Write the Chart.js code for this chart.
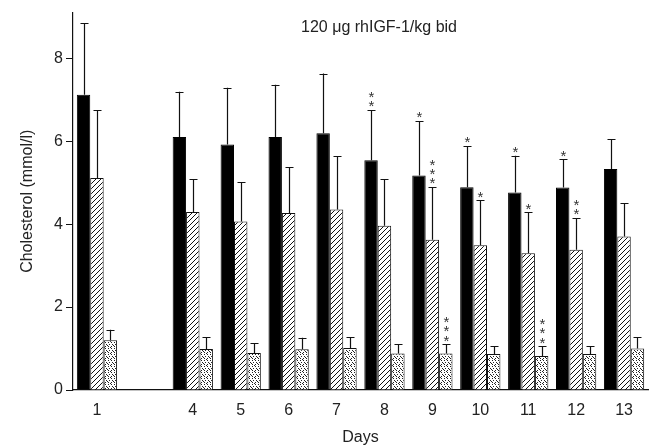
<!DOCTYPE html>
<html>
<head>
<meta charset="utf-8">
<script src="https://cdn.jsdelivr.net/npm/chart.js@4.4.1/dist/chart.umd.min.js"></script>
<style>
  html, body { margin: 0; padding: 0; background: #fff; }
  #wrap { width: 659px; height: 447px; }
</style>
</head>
<body>
<div id="wrap"><canvas id="chart" width="659" height="447"></canvas></div>
<script>
// 일자 (2, 3일은 빈 칸 하나로 표시)
const days = ['1', '', '4', '5', '6', '7', '8', '9', '10', '11', '12', '13'];

// 평균값 (mmol/l)
const blackMean   = [7.12, null, 6.10, 5.92, 6.10, 6.19, 5.54, 5.17, 4.89, 4.76, 4.88, 5.33];
const hatchedMean = [5.11, null, 4.29, 4.06, 4.27, 4.35, 3.96, 3.62, 3.49, 3.30, 3.38, 3.70];
const dottedMean  = [1.20, null, 0.99, 0.89, 0.98, 1.01, 0.88, 0.88, 0.87, 0.82, 0.87, 1.00];

// 표준편차 (위쪽 오차막대)
const blackSd   = [1.73, null, 1.09, 1.37, 1.26, 1.44, 1.21, 1.31, 0.99, 0.89, 0.68, 0.72];
const hatchedSd = [1.63, null, 0.80, 0.95, 1.10, 1.29, 1.13, 1.27, 1.08, 0.98, 0.77, 0.80];
const dottedSd  = [0.25, null, 0.29, 0.24, 0.28, 0.27, 0.23, 0.22, 0.18, 0.23, 0.18, 0.28];

// 유의성 별표 개수
const blackStars   = [0, 0, 0, 0, 0, 0, 2, 1, 1, 1, 1, 0];
const hatchedStars = [0, 0, 0, 0, 0, 0, 0, 3, 1, 1, 2, 0];
const dottedStars  = [0, 0, 0, 0, 0, 0, 0, 3, 0, 3, 0, 0];

const yTicks = [0, 2, 4, 6, 8];

const FONT = '"Liberation Sans", Arial, Helvetica, sans-serif';

// 빗금 패턴
function makeHatch() {
    const c = document.createElement('canvas');
    c.width = 5; c.height = 5;
    const g = c.getContext('2d');
    g.fillStyle = '#fff';
    g.fillRect(0, 0, 5, 5);
    g.fillStyle = '#111';
    for (let i = 0; i < 5; i++) g.fillRect(4 - i, i, 1, 1);
    return g.createPattern(c, 'repeat');
}

// 점묘 패턴
function makeDots() {
    const c = document.createElement('canvas');
    c.width = 6; c.height = 6;
    const g = c.getContext('2d');
    g.fillStyle = '#fff';
    g.fillRect(0, 0, 6, 6);
    g.fillStyle = '#222';
    [[0, 0], [3, 0], [1, 2], [4, 2], [0, 4], [3, 4], [2, 5], [5, 3]].forEach(p => g.fillRect(p[0], p[1], 1, 1));
    return g.createPattern(c, 'repeat');
}

const seriesExtra = [
    { sd: blackSd, stars: blackStars },
    { sd: hatchedSd, stars: hatchedStars },
    { sd: dottedSd, stars: dottedStars },
];

const errorBarPlugin = {
    id: 'errorBars',
    afterDatasetsDraw(chart) {
        const ctx = chart.ctx;
        const y = chart.scales.y;
        ctx.save();
        ctx.strokeStyle = '#111';
        ctx.lineWidth = 1.2;
        chart.data.datasets.forEach((ds, di) => {
            const meta = chart.getDatasetMeta(di);
            const extra = seriesExtra[di];
            meta.data.forEach((bar, i) => {
                const v = ds.data[i];
                if (v == null) return;
                const top = y.getPixelForValue(v + extra.sd[i]);
                const base = y.getPixelForValue(v);
                const x = Math.round(bar.x) + 0.5;
                ctx.beginPath();
                ctx.moveTo(x, base);
                ctx.lineTo(x, top);
                ctx.moveTo(x - 4, Math.round(top) + 0.5);
                ctx.lineTo(x + 4, Math.round(top) + 0.5);
                ctx.stroke();
                // 별표
                ctx.fillStyle = '#333';
                ctx.font = '15px ' + FONT;
                ctx.textAlign = 'center';
                ctx.textBaseline = 'middle';
                for (let s = 0; s < extra.stars[i]; s++) {
                    ctx.fillText('*', x, top - 3 - s * 9.3);
                }
            });
        });
        ctx.restore();
    }
};

const titlePlugin = {
    id: 'innerTitle',
    afterDraw(chart) {
        const ctx = chart.ctx;
        ctx.save();
        ctx.fillStyle = '#222';
        ctx.font = '16px ' + FONT;
        ctx.textAlign = 'center';
        ctx.textBaseline = 'middle';
        ctx.fillText('120 μg rhIGF-1/kg bid', 379, 28);
        ctx.restore();
    }
};

const ctx = document.getElementById('chart').getContext('2d');
new Chart(ctx, {
    type: 'bar',
    data: {
        labels: days,
        datasets: [
            { label: 'A', data: blackMean, backgroundColor: '#000', borderColor: '#000', borderWidth: 1 },
            { label: 'B', data: hatchedMean, backgroundColor: makeHatch(), borderColor: '#111', borderWidth: 1 },
            { label: 'C', data: dottedMean, backgroundColor: makeDots(), borderColor: '#111', borderWidth: 1 },
        ]
    },
    options: {
        responsive: false,
        animation: false,
        devicePixelRatio: 1,
        layout: { padding: { left: 0, right: 11, top: 9, bottom: 0 } },
        datasets: {
            bar: { categoryPercentage: 0.84, barPercentage: 1.0 }
        },
        plugins: {
            legend: { display: false },
            tooltip: { enabled: false }
        },
        scales: {
            x: {
                grid: { display: false, drawTicks: false },
                border: { display: true, color: '#111', width: 1.2 },
                ticks: { color: '#222', font: { family: FONT, size: 16 }, padding: 11, maxRotation: 0, autoSkip: false },
                title: { display: true, text: 'Days', color: '#222', font: { family: FONT, size: 16 }, padding: { top: 5, bottom: 0 } },
                afterFit(scale) { scale.height = 57; }
            },
            y: {
                min: 0,
                max: 9.1,
                afterBuildTicks(scale) { scale.ticks = yTicks.map(v => ({ value: v })); },
                grid: { display: true, drawOnChartArea: false, drawTicks: true, tickLength: 7, color: '#111' },
                border: { display: true, color: '#111', width: 1.2 },
                ticks: { color: '#222', font: { family: FONT, size: 16 }, padding: 3 },
                title: { display: true, text: 'Cholesterol (mmol/l)', color: '#222', font: { family: FONT, size: 16 }, padding: { top: 18, bottom: 0 } },
                afterFit(scale) { scale.width = 73; }
            }
        }
    },
    plugins: [errorBarPlugin, titlePlugin]
});
</script>
</body>
</html>
